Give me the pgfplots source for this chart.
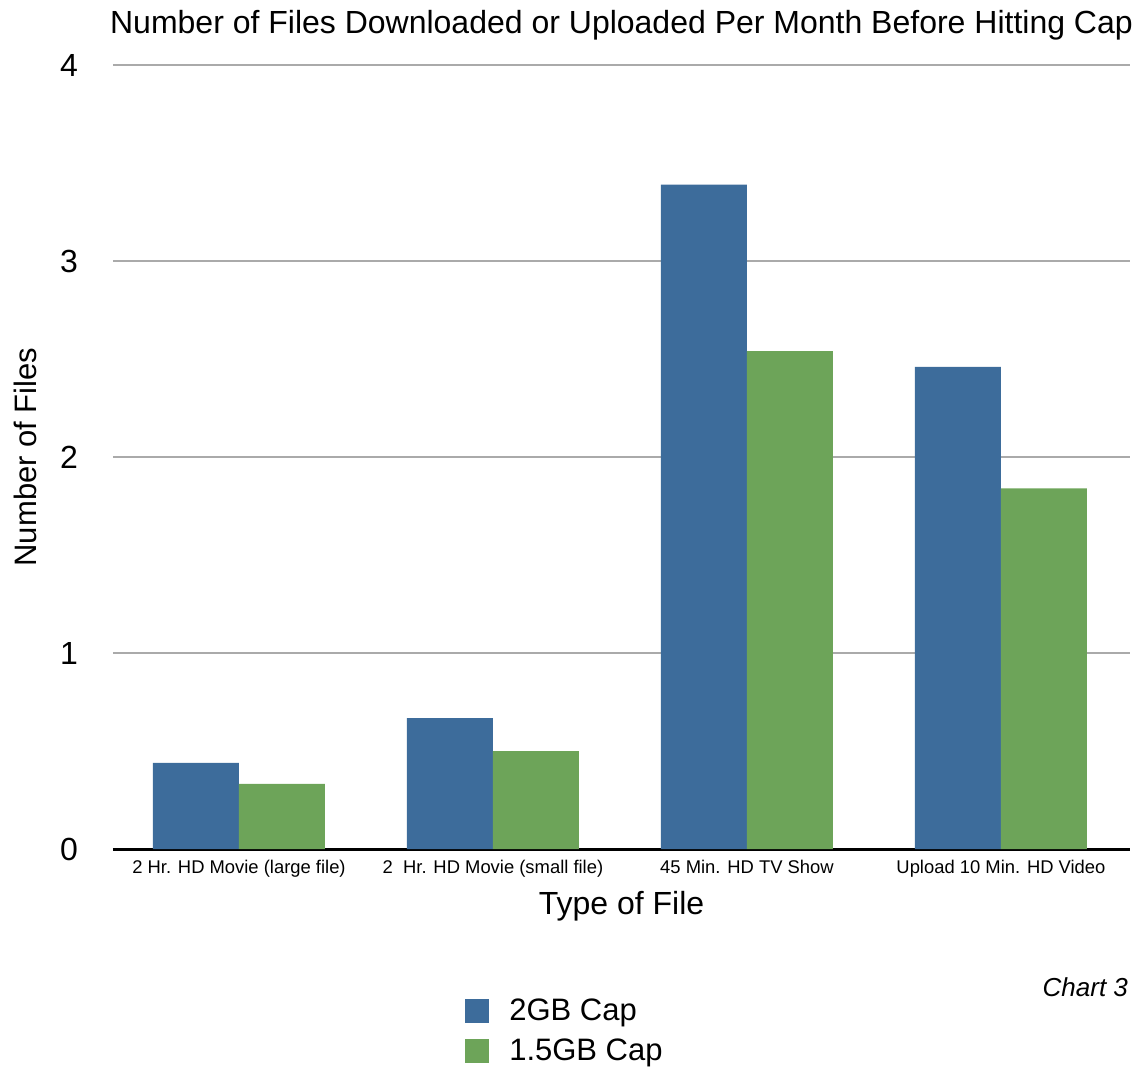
\documentclass[border=0pt]{standalone}
\usepackage{fontspec}
\setmainfont{Liberation Sans}
\usepackage{pgfplots}
\pgfplotsset{compat=1.18}

\definecolor{capblue}{RGB}{61,108,155}
\definecolor{capgreen}{RGB}{109,164,89}
\definecolor{gridgray}{RGB}{170,170,170}

\begin{document}
\begin{tikzpicture}
\useasboundingbox (-56.5pt,-109pt) rectangle (512pt,424.5pt);
\begin{axis}[
    at={(0,0)}, anchor=south west,
    scale only axis,
    width=508.5pt, height=392pt,
    ybar=0pt, bar width=43pt,
    xmin=-0.496, xmax=3.508,
    ymin=0, ymax=4,
    xtick={0,1,2,3},
    xticklabels={2 Hr. HD Movie (large file), 2\ \ Hr. HD Movie (small file), 45 Min. HD TV Show, Upload 10 Min. HD Video},
    ytick={0,1,2,3,4},
    separate axis lines,
    axis x line*=bottom,
    axis y line*=left,
    x axis line style={line width=1.5pt, black, -},
    y axis line style={draw=none},
    major tick length=0pt,
    ymajorgrids,
    major grid style={gridgray, line width=1pt},
    /pgf/number format/assume math mode=true,
    xticklabel style={font=\fontsize{9.2}{11}\selectfont, yshift=-2pt},
    yticklabel style={font=\fontsize{16}{18}\selectfont, anchor=east, xshift=-14pt},
    every axis y label/.style={at={(axis description cs:-0.0865,0.5)}, rotate=90, anchor=center, font=\fontsize{15.5}{18}\selectfont},
    every axis x label/.style={at={(axis description cs:0.5,-0.0727)}, anchor=center, font=\fontsize{16}{19}\selectfont},
    ylabel={Number of Files},
    xlabel={Type of File},
    title={Number of Files Downloaded or Uploaded Per Month Before Hitting Cap},
    every axis title/.style={at={(axis description cs:0.5,1.051)}, anchor=center, font=\fontsize{16}{19}\selectfont},
    legend style={at={(axis description cs:0.346,-0.185)}, anchor=north west, draw=none, fill=none,
        font=\fontsize{15.5}{18}\selectfont, row sep=4pt, inner sep=0pt},
    legend cell align=left,
    legend image code/.code={\fill[#1] (0pt,-6pt) rectangle (12pt,6pt); \path (20pt,0pt);},
]
\addplot[fill=capblue, draw=none] coordinates {(0,0.439) (1,0.668) (2,3.39) (3,2.46)};
\addplot[fill=capgreen, draw=none] coordinates {(0,0.332) (1,0.50) (2,2.54) (3,1.84)};
\legend{2GB Cap, 1.5GB Cap}
\end{axis}
\node[anchor=east, font=\itshape\fontsize{13}{15}\selectfont] at (511pt,-69pt) {Chart 3};
\end{tikzpicture}
\end{document}
